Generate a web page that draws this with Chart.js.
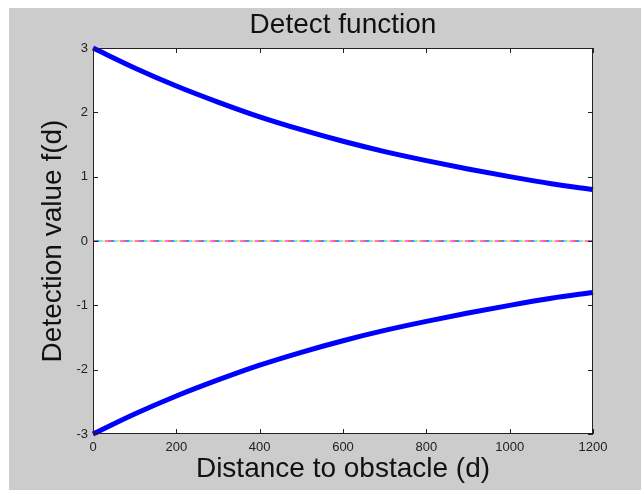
<!DOCTYPE html>
<html>
<head>
<meta charset="utf-8">
<script src="https://cdn.jsdelivr.net/npm/chart.js@4/dist/chart.umd.min.js"></script>
<style>
    html, body { margin: 0; padding: 0; background: #fff; }
    #wrap { width: 641px; height: 490px; }
</style>
</head>
<body>
<div id="wrap"><canvas id="detectChart" width="641" height="490"></canvas></div>
<script>
// --- Data ---
const distance = [0, 100, 200, 300, 400, 500, 600, 700, 800, 900, 1000, 1100, 1200];
const upperValues = [3.00, 2.69, 2.41, 2.16, 1.93, 1.73, 1.55, 1.39, 1.25, 1.12, 1.00, 0.89, 0.80];
const lowerValues = [-3.00, -2.69, -2.41, -2.16, -1.93, -1.73, -1.55, -1.39, -1.25, -1.12, -1.00, -0.89, -0.80];
const zeroDistance = [0, 1200];
const zeroValues = [0, 0];
const xTicks = [0, 200, 400, 600, 800, 1000, 1200];
const yTicks = [-3, -2, -1, 0, 1, 2, 3];

const titleText = "Detect function";
const xTitle = "Distance to obstacle (d)";
const yTitle = "Detection value f(d)";

const FONT = "'Liberation Sans', Arial, sans-serif";
const zeroColors = ["#ff3030", "#3050ff", "#30e0ff", "#ffe030", "#ff40ff"];

const toPoints = (xs, ys) => xs.map((x, i) => ({ x: x, y: ys[i] }));

// --- Figure background, box, inward ticks, title ---
const matlabFrame = {
    id: 'matlabFrame',
    beforeDraw(chart) {
        const ctx = chart.ctx;
        const a = chart.chartArea;
        ctx.save();
        ctx.fillStyle = '#ffffff';
        ctx.fillRect(0, 0, chart.width, chart.height);
        ctx.fillStyle = '#cccccc';
        ctx.fillRect(9, 8, chart.width - 9, chart.height - 8);
        ctx.fillStyle = '#ffffff';
        ctx.fillRect(a.left, a.top, a.right - a.left, a.bottom - a.top);
        ctx.restore();
    },
    afterDraw(chart) {
        const ctx = chart.ctx;
        const a = chart.chartArea;
        const xs = chart.scales.x, ys = chart.scales.y;
        const tl = 5;
        ctx.save();
        ctx.strokeStyle = '#222222';
        ctx.lineWidth = 1;
        ctx.strokeRect(a.left + 0.5, a.top + 0.5, a.right - a.left - 1, a.bottom - a.top - 1);
        ctx.beginPath();
        xTicks.forEach(v => {
            const px = Math.round(xs.getPixelForValue(v)) + 0.5;
            ctx.moveTo(px, a.bottom); ctx.lineTo(px, a.bottom - tl);
            ctx.moveTo(px, a.top); ctx.lineTo(px, a.top + tl);
        });
        yTicks.forEach(v => {
            const py = Math.round(ys.getPixelForValue(v)) + 0.5;
            ctx.moveTo(a.left, py); ctx.lineTo(a.left + tl, py);
            ctx.moveTo(a.right, py); ctx.lineTo(a.right - tl, py);
        });
        ctx.stroke();
        // title centred over the axes box
        ctx.fillStyle = '#111111';
        ctx.font = '28px ' + FONT;
        ctx.textAlign = 'center';
        ctx.textBaseline = 'middle';
        ctx.fillText(titleText, (a.left + a.right) / 2, 25);
        ctx.restore();
    }
};

const zeroSets = zeroColors.map((c, i) => ({
    data: toPoints(zeroDistance, zeroValues),
    borderColor: c,
    borderWidth: 1.5,
    borderDash: [3, 12],
    borderDashOffset: -3 * i,
    pointRadius: 0,
    fill: false,
    order: 2
}));

const curve = values => ({
    data: toPoints(distance, values),
    borderColor: '#0000ff',
    borderWidth: 5,
    pointRadius: 0,
    cubicInterpolationMode: 'monotone',
    fill: false,
    clip: false,
    order: 1
});

new Chart(document.getElementById('detectChart').getContext('2d'), {
    type: 'line',
    data: {
        datasets: [...zeroSets, curve(upperValues), curve(lowerValues)]
    },
    options: {
        responsive: false,
        animation: false,
        events: [],
        layout: { padding: { left: 9, top: 48, right: 48, bottom: 0 } },
        plugins: { legend: { display: false }, tooltip: { enabled: false }, title: { display: false } },
        scales: {
            x: {
                type: 'linear',
                min: 0,
                max: 1200,
                border: { display: false },
                grid: { display: false, drawTicks: false },
                afterBuildTicks: s => { s.ticks = xTicks.map(v => ({ value: v })); },
                afterFit: s => { s.height = 56; },
                ticks: { color: '#222', font: { family: FONT, size: 13 }, padding: 6, maxRotation: 0, autoSkip: false, callback: v => String(v) },
                title: { display: true, text: xTitle, color: '#111', font: { family: FONT, size: 28 }, padding: { top: 0, bottom: 4 } }
            },
            y: {
                type: 'linear',
                min: -3,
                max: 3,
                border: { display: false },
                grid: { display: false, drawTicks: false },
                afterBuildTicks: s => { s.ticks = yTicks.map(v => ({ value: v })); },
                afterFit: s => { s.width = 84; },
                ticks: { color: '#222', font: { family: FONT, size: 13 }, padding: 5, autoSkip: false, callback: v => String(v) },
                title: { display: true, text: yTitle, color: '#111', font: { family: FONT, size: 28 }, padding: { top: 27, bottom: 0 } }
            }
        }
    },
    plugins: [matlabFrame]
});
</script>
</body>
</html>
